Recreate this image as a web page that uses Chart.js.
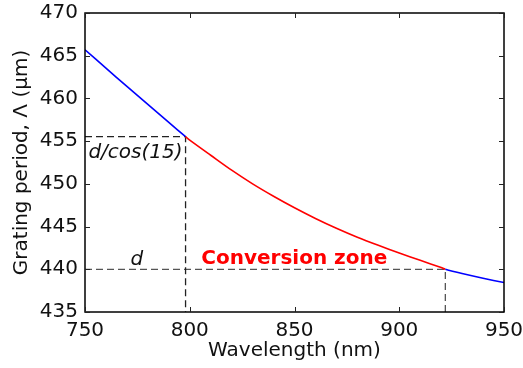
<!DOCTYPE html>
<html><head><meta charset="utf-8">
<script src="https://cdn.jsdelivr.net/npm/chart.js@4/dist/chart.umd.min.js"></script>
<style>html,body{margin:0;padding:0;background:#fff}#wrap{width:523px;height:368px}</style>
</head><body><div id="wrap"><canvas id="c" width="523" height="368"></canvas></div>
<script>
// ---- data ----
const wavelengths   = [750, 760, 770, 780, 790, 798, 800, 810, 820, 830, 840, 850, 860, 870, 880, 890, 900, 910, 920, 922, 930, 940, 950];
const gratingPeriod = [465.7, 463.55, 461.4, 459.3, 457.2, 455.52, 455.12, 453.35, 451.6, 450.0, 448.55, 447.2, 445.95, 444.8, 443.75, 442.8, 441.9, 441.05, 440.2, 440.0, 439.5, 438.95, 438.45];
const zoneStart = 798;          // nm, start of conversion zone
const zoneEnd = 922;            // nm, end of conversion zone
const dPeriod = 440;            // d
const tiltedPeriod = 455.52;    // d/cos(15)
const xTickValues = [750, 800, 850, 900, 950];
const yTickValues = [435, 440, 445, 450, 455, 460, 465, 470];
const labels = [
  {text: 'd/cos(15)', x: zoneStart, y: 453.6, align: 'right', dx: -3, font: 'italic 20px "DejaVu Sans"', color: '#111'},
  {text: 'd', x: 774.7, y: 441.1, align: 'center', dx: 0, font: 'italic 20px "DejaVu Sans"', color: '#111'},
  {text: 'Conversion zone', x: 805.5, y: 441.2, align: 'left', dx: 0, font: 'bold 20px "DejaVu Sans"', color: '#ff0000'}
];

const curve = wavelengths.map((w, i) => ({x: w, y: gratingPeriod[i]}));
const xMin = xTickValues[0], xMax = xTickValues[xTickValues.length - 1];
const yMin = yTickValues[0], yMax = yTickValues[yTickValues.length - 1];

const framePlugin = {
  id: 'frame',
  afterDraw(chart) {
    const {ctx, chartArea: a, scales: {x, y}} = chart;
    ctx.save();
    labels.forEach(l => {
      ctx.font = l.font;
      ctx.fillStyle = l.color;
      ctx.textAlign = l.align;
      ctx.textBaseline = 'middle';
      ctx.fillText(l.text, x.getPixelForValue(l.x) + l.dx, y.getPixelForValue(l.y));
    });
    ctx.strokeStyle = '#000';
    ctx.lineWidth = 1.5;
    ctx.strokeRect(a.left, a.top, a.right - a.left, a.bottom - a.top);
    ctx.strokeStyle = '#222';
    ctx.lineWidth = 1;
    const L = 5;
    xTickValues.forEach(v => {
      const px = Math.round(x.getPixelForValue(v)) + 0.5;
      ctx.beginPath();
      ctx.moveTo(px, a.bottom); ctx.lineTo(px, a.bottom - L);
      ctx.moveTo(px, a.top); ctx.lineTo(px, a.top + L);
      ctx.stroke();
    });
    yTickValues.forEach(v => {
      const py = Math.round(y.getPixelForValue(v)) + 0.5;
      ctx.beginPath();
      ctx.moveTo(a.left, py); ctx.lineTo(a.left + L, py);
      ctx.moveTo(a.right, py); ctx.lineTo(a.right - L, py);
      ctx.stroke();
    });
    ctx.restore();
  }
};

new Chart(document.getElementById('c'), {
  type: 'line',
  data: {
    datasets: [
      {
        data: curve,
        borderWidth: 1.6,
        pointRadius: 0,
        tension: 0.3,
        borderColor: '#0000ff',
        segment: {
          borderColor: c => (c.p0.parsed.x >= zoneStart && c.p1.parsed.x <= zoneEnd) ? '#ff0000' : '#0000ff'
        },
        order: 0
      },
      {
        data: [{x: xMin, y: tiltedPeriod}, {x: zoneStart, y: tiltedPeriod}, {x: zoneStart, y: yMin}],
        borderColor: '#222', borderWidth: 1.3, borderDash: [7, 4], pointRadius: 0, tension: 0, order: 1
      },
      {
        data: [{x: xMin, y: dPeriod}, {x: zoneEnd, y: dPeriod}, {x: zoneEnd, y: yMin}],
        borderColor: '#555', borderWidth: 1.3, borderDash: [7, 4], pointRadius: 0, tension: 0, order: 1
      }
    ]
  },
  options: {
    responsive: false,
    animation: false,
    devicePixelRatio: 1,
    layout: {padding: {top: 13, right: 19, left: 0, bottom: 0}},
    plugins: {legend: {display: false}, tooltip: {enabled: false}},
    scales: {
      x: {
        type: 'linear', min: xMin, max: xMax,
        afterBuildTicks: s => { s.ticks = xTickValues.map(v => ({value: v})); },
        afterFit: s => { s.height = 56; s.paddingLeft = 0; s.paddingRight = 0; },
        grid: {display: false, drawTicks: false},
        border: {display: false},
        ticks: {font: {family: 'DejaVu Sans', size: 20}, color: '#111', padding: 7, maxRotation: 0},
        title: {display: true, text: 'Wavelength (nm)', font: {family: 'DejaVu Sans', size: 20}, color: '#111', padding: {top: 0, bottom: 5}}
      },
      y: {
        type: 'linear', min: yMin, max: yMax,
        afterBuildTicks: s => { s.ticks = yTickValues.map(v => ({value: v})); },
        afterFit: s => { s.width = 85; s.paddingTop = 0; s.paddingBottom = 0; },
        grid: {display: false, drawTicks: false},
        border: {display: false},
        ticks: {font: {family: 'DejaVu Sans', size: 20}, color: '#111', padding: 7},
        title: {display: true, text: 'Grating period, Λ (μm)', font: {family: 'DejaVu Sans', size: 20}, color: '#111', padding: {top: 10, bottom: 0}}
      }
    }
  },
  plugins: [framePlugin]
});
</script>
</body></html>
